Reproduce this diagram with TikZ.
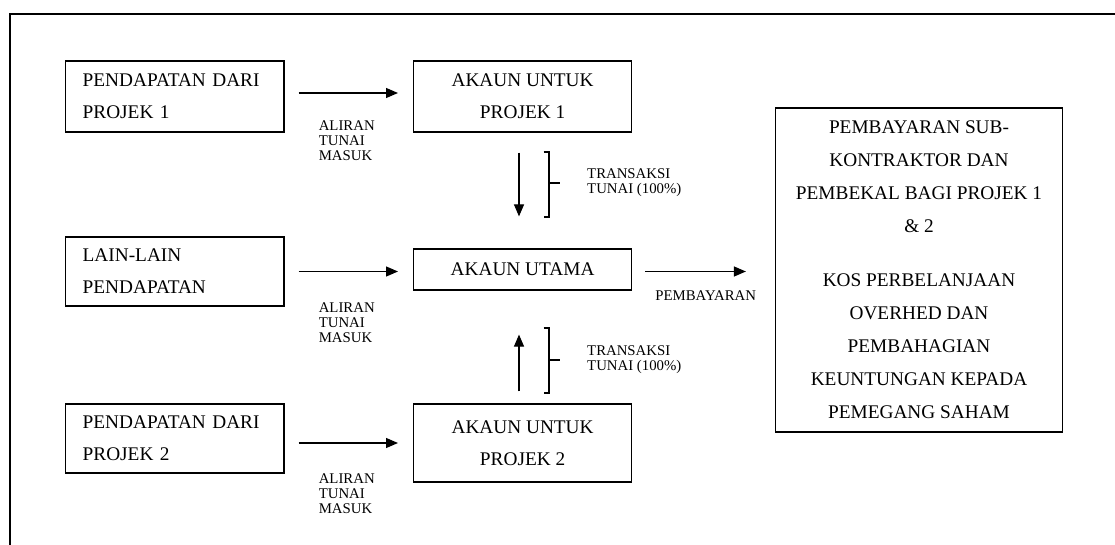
\documentclass[tikz,border=0pt]{standalone}
\usepackage{fontspec}
\setmainfont{Liberation Serif}
\usetikzlibrary{arrows.meta}

\tikzset{
  box/.style={draw, line width = 1.2pt, inner sep=0pt, font=\fontsize{19.3}{32}\selectfont},
  leftbox/.style={box, text width=184pt, align=left, minimum width=218.6pt},
  midbox/.style={box, align=center, minimum width=218pt},
  flow/.style={line width = 1.2pt, -{Triangle[length=12pt,width=10pt]}},
  smalltext/.style={font=\fontsize{14.8}{15}\selectfont, align=left, inner sep=0pt},
  brak/.style={line width = 1.2pt},
}

\begin{document}
\begin{tikzpicture}[x=1pt,y=-1pt]
\useasboundingbox (0,0) rectangle (1115,545);

% frame
\draw[line width = 2.4pt] (10,545) -- (10,14) -- (1115,14);

% boxes
\node[leftbox, minimum height=71pt] (proj1) at (174.7,96.5) {PENDAPATAN DARI\\PROJEK 1};
\node[leftbox, minimum height=69pt] (lain) at (174.7,271.5) {LAIN-LAIN\\PENDAPATAN};
\node[leftbox, minimum height=69pt] (proj2) at (174.7,438.5) {PENDAPATAN DARI\\PROJEK 2};
\node[midbox, minimum height=71pt] (akaun1) at (522.6,96.5) {AKAUN UNTUK\\PROJEK 1};
\node[midbox, minimum height=41pt] (utama) at (522.6,269.5) {AKAUN UTAMA};
\node[midbox, minimum height=78pt] (akaun2) at (522.6,443) {AKAUN UNTUK\\PROJEK 2};
\node[box, align=center, minimum width=287pt, minimum height=324pt, font=\fontsize{19.3}{33}\selectfont] (bayar) at (919,270)
  {PEMBAYARAN SUB-\\KONTRAKTOR DAN\\PEMBEKAL BAGI PROJEK 1\\\& 2\\[21pt]KOS PERBELANJAAN\\OVERHED DAN\\PEMBAHAGIAN\\KEUNTUNGAN KEPADA\\PEMEGANG SAHAM};

% arrows
\draw[flow, shorten <=14pt, shorten >=15pt] ([yshift=3.5pt]proj1.east) -- ([yshift=3.5pt]akaun1.west);
\draw[flow, shorten <=14pt, shorten >=15pt] (lain.east) -- (lain.east -| utama.west);
\draw[flow, shorten <=14pt, shorten >=15pt] (akaun2.west -| proj2.east) -- (akaun2.west);
\draw[flow, shorten <=13pt, shorten >=29pt] ([yshift=-2pt]utama.east) -- ([yshift=-2pt]utama.east -| bayar.west);
\draw[flow, shorten <=20pt, shorten >=32pt] ([xshift=-3.6pt]akaun1.south) -- ([xshift=-3.6pt]utama.north);
\draw[flow, shorten <=12pt, shorten >=44pt] ([xshift=-3.6pt]akaun2.north) -- ([xshift=-3.6pt]utama.south);

% brackets
\draw[brak] (543.7,152) -- (549,152) -- (549,217) -- (543.7,217) (549,183) -- (560,183);
\draw[brak] (543.7,328) -- (549,328) -- (549,393) -- (543.7,393) (549,360) -- (560,360);

% labels
\node[smalltext, anchor=west] (masuk1) at (318.6,141) {ALIRAN\\TUNAI\\MASUK};
\node[smalltext, anchor=west] (masuk2) at (318.6,323) {ALIRAN\\TUNAI\\MASUK};
\node[smalltext, anchor=west] (masuk3) at (318.6,494) {ALIRAN\\TUNAI\\MASUK};
\node[smalltext, anchor=west] (trans1) at (587,183) {TRANSAKSI\\TUNAI (100\%)};
\node[smalltext, anchor=west] (trans2) at (587,360) {TRANSAKSI\\TUNAI (100\%)};
\node[smalltext] (pembayaran) at (705.7,296) {PEMBAYARAN};

\end{tikzpicture}
\end{document}
